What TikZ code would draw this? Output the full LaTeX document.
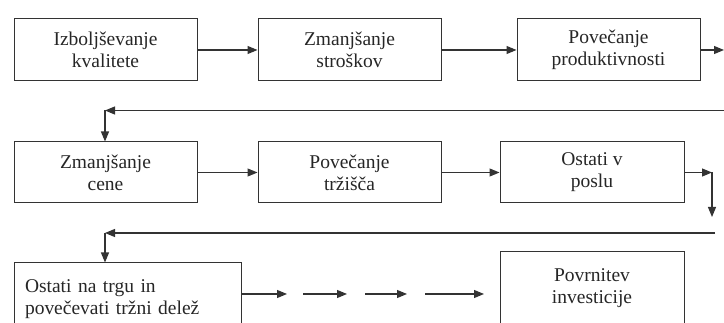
\documentclass[tikz,border=0pt]{standalone}
\usepackage{fontspec}
\setmainfont{Liberation Serif}
\usetikzlibrary{arrows.meta}
\definecolor{lineColor}{rgb}{0.2,0.2,0.2}

\begin{document}
\begin{tikzpicture}[x=1pt,y=-1pt]

            \tikzstyle{stepbox} = [draw=lineColor, line width=1pt, minimum width=183pt, minimum height=62pt,
                                   align=center, font=\fontsize{19.5}{22}\selectfont, text=black!85];
            \tikzstyle{arr} = [-{Triangle[length=10pt,width=8pt]}, line width=1.1pt, lineColor];

            \useasboundingbox (0,0) rectangle (724,323);
            \clip (0,0) rectangle (724,323);

            % first row
            \node[stepbox] (kval) at (105.5,50) {Izboljševanje\\kvalitete};
            \node[stepbox] (stroski) at (349.5,50) {Zmanjšanje\\stroškov};
            \node[stepbox] (prod) at (608.5,50) {Povečanje\\produktivnosti};
            \coordinate (r1) at (724,50);

            % second row
            \node[stepbox, minimum height=61pt] (cene) at (105.5,172.5) {Zmanjšanje\\cene};
            \node[stepbox, minimum height=61pt] (trzisce) at (349.5,172.5) {Povečanje\\tržišča};
            \node[stepbox, minimum height=61pt, minimum width=184pt] (posel) at (592,172.5) {Ostati v\\poslu};

            % third row
            \node[stepbox, minimum width=227pt, minimum height=72pt, align=left, text width=205pt] (trg) at (127.5,299)
                {Ostati na trgu in\\povečevati tržni delež};
            \node[stepbox, minimum width=184pt, minimum height=72pt] (inv) at (592,288) {Povrnitev\\investicije};

            % return lines
            \coordinate (v1r) at (724,110.5);
            \coordinate (v1l) at (105,110.5);
            \coordinate (p1) at (712,172.5);
            \coordinate (p2) at (712,217);
            \coordinate (v2r) at (715,233);
            \coordinate (v2l) at (105,233);

            % dotted chain of arrows
            \coordinate (d1) at (287,294);
            \coordinate (d2a) at (303,294);
            \coordinate (d2b) at (347,294);
            \coordinate (d3a) at (365,294);
            \coordinate (d3b) at (407,294);
            \coordinate (d4a) at (425,294);
            \coordinate (d4b) at (484,294);

            \draw[arr] (kval) -- (stroski);
            \draw[arr] (stroski) -- (prod);
            \draw[arr] (prod) -- (r1);
            \draw[arr] (v1r) -- (v1l);
            \draw[arr] (v1l) -- (cene.north -| v1l);
            \draw[arr] (cene) -- (trzisce);
            \draw[arr] (trzisce) -- (posel);
            \draw[arr] (posel.east) -- (p1);
            \draw[arr] (p1) -- (p2);
            \draw[arr] (v2r) -- (v2l);
            \draw[arr] (v2l) -- (trg.north -| v2l);
            \draw[arr] (trg.east |- d1) -- (d1);
            \draw[arr] (d2a) -- (d2b);
            \draw[arr] (d3a) -- (d3b);
            \draw[arr] (d4a) -- (d4b);
          \end{tikzpicture}
\end{document}
